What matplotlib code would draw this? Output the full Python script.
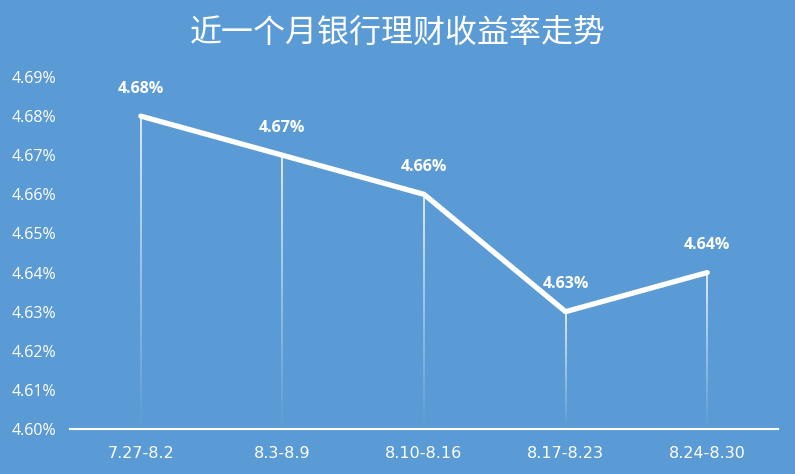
import numpy as np
import matplotlib
matplotlib.use("Agg")
import matplotlib.pyplot as plt
from matplotlib.collections import LineCollection

categories = ["7.27-8.2", "8.3-8.9", "8.10-8.16", "8.17-8.23", "8.24-8.30"]
values = [4.68, 4.67, 4.66, 4.63, 4.64]
yticks = [4.60, 4.61, 4.62, 4.63, 4.64, 4.65, 4.66, 4.67, 4.68, 4.69]
title = "近一个月银行理财收益率走势"

bg = "#5B9BD5"
fig = plt.figure(figsize=(7.95, 4.74), dpi=100, facecolor=bg)
ax = fig.add_axes([70/795, 1-429/474, 708/795, (429-77)/474])
ax.set_facecolor(bg)

x = np.arange(len(categories))
ax.set_xlim(-0.5, len(categories) - 0.5)
ax.set_ylim(4.60, 4.69)

# drop lines with fading gradient
ymin = 4.60
nseg = 60
for xi, v in zip(x, values):
    ys = np.linspace(v, ymin, nseg + 1)
    segs = [[(xi, ys[i]), (xi, ys[i+1])] for i in range(nseg)]
    alphas = np.linspace(0.85, 0.0, nseg)
    cols = [(1, 1, 1, a) for a in alphas]
    lc = LineCollection(segs, colors=cols, linewidths=1.3, zorder=2)
    ax.add_collection(lc)

ax.plot(x, values, color="white", lw=3.8, solid_capstyle="round",
        solid_joinstyle="round", zorder=3)

for xi, v in zip(x, values):
    ax.annotate(f"{v:.2f}%", (xi, v), xytext=(0, 14), textcoords="offset points",
                ha="center", va="bottom", color="white", fontsize=11.5,
                fontweight="bold", family=["Open Sans", "DejaVu Sans"])

for s in ["top", "right", "left"]:
    ax.spines[s].set_visible(False)
ax.spines["bottom"].set_color("white")
ax.spines["bottom"].set_linewidth(1.5)

ax.set_yticks(yticks)
ax.set_yticklabels([f"{t:.2f}%" for t in yticks], color="white", fontsize=11.5,
                   family=["Open Sans", "DejaVu Sans"])
ax.set_xticks(x)
ax.set_xticklabels(categories, color="white", fontsize=11.5,
                   family=["DejaVu Sans"])
ax.tick_params(axis="both", length=0)
ax.tick_params(axis="x", pad=12)
ax.tick_params(axis="y", pad=10)

fig.text(0.5, 1-33/474, title, ha="center", va="center", color="white",
         fontsize=23, family=["Noto Sans CJK SC", "DejaVu Sans"])

fig.savefig("out.png", dpi=100, facecolor=bg)
